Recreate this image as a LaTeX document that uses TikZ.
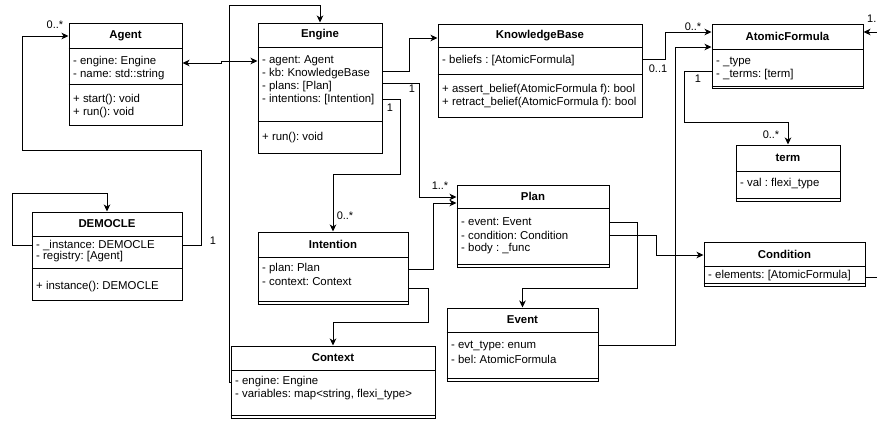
\documentclass[tikz,border=0pt]{standalone}
\usepackage{fontspec}
\setmainfont{Liberation Sans}
\usetikzlibrary{arrows.meta,fit,calc}
\frenchspacing
\begin{document}
\begin{tikzpicture}[x=1pt,y=-1pt,
  cls/.style={draw, line width=1pt, inner sep=0pt},
  ttl/.style={font=\fontsize{11.4}{13}\selectfont\bfseries, inner sep=0pt},
  row/.style={font=\fontsize{11.4}{13}\selectfont, inner sep=0pt, anchor=west},
  lbl/.style={font=\fontsize{11}{13}\selectfont, inner sep=0pt},
  conn/.style={line width=1pt, -{Stealth[length=7pt,width=6.5pt,inset=2pt]}},
  sep/.style={line width=1pt}]
\useasboundingbox (0,0) rectangle (877,421);

% ---------- Agent
\node[cls, fit={(69,23) (182,125)}] (agent) {};
\draw[sep] (agent.west |- 0,48) -- (agent.east |- 0,48);
\draw[sep] (agent.west |- 0,84) -- (agent.east |- 0,84);
\node[ttl] (agent-t) at (agent.north |- 0,35.5) {Agent};
\node[row] (agent-a1) at (73,62) {- engine: Engine};
\node[row] (agent-a2) at (73,75) {- name: std::string};
\node[row] (agent-m1) at (73,100) {+ start(): void};
\node[row] (agent-m2) at (73,113) {+ run(): void};

% ---------- Engine
\node[cls, fit={(258,23) (382,153)}] (engine) {};
\draw[sep] (engine.west |- 0,47) -- (engine.east |- 0,47);
\draw[sep] (engine.west |- 0,121) -- (engine.east |- 0,121);
\node[ttl] (engine-t) at (engine.north |- 0,35) {Engine};
\node[row] (engine-a1) at (262,61) {- agent: Agent};
\node[row] (engine-a2) at (262,74) {- kb: KnowledgeBase};
\node[row] (engine-a3) at (262,87) {- plans: [Plan]};
\node[row] (engine-a4) at (262,100) {- intentions: [Intention]};
\node[row] (engine-m1) at (262,138) {+ run(): void};

% ---------- KnowledgeBase
\node[cls, fit={(438,24) (642,117)}] (kb) {};
\draw[sep] (kb.west |- 0,47) -- (kb.east |- 0,47);
\draw[sep] (kb.west |- 0,74) -- (kb.east |- 0,74);
\node[ttl] (kb-t) at (kb.north |- 0,35.5) {KnowledgeBase};
\node[row] (kb-a1) at (442,61) {- beliefs : [AtomicFormula]};
\node[row] (kb-m1) at (442,90) {+ assert\_belief(AtomicFormula f): bool};
\node[row] (kb-m2) at (442,103) {+ retract\_belief(AtomicFormula f): bool};

% ---------- AtomicFormula
\node[cls, fit={(712,24) (863,88)}] (af) {};
\draw[sep] (af.west |- 0,49) -- (af.east |- 0,49);
\draw[sep] (af.west |- 0,86) -- (af.east |- 0,86);
\node[ttl] (af-t) at (af.north |- 0,36.5) {AtomicFormula};
\node[row] (af-a1) at (716,62) {- \_type};
\node[row] (af-a2) at (716,75) {- \_terms: [term]};

% ---------- term
\node[cls, fit={(736,145) (840,201)}] (term) {};
\draw[sep] (term.west |- 0,171) -- (term.east |- 0,171);
\draw[sep] (term.west |- 0,198) -- (term.east |- 0,198);
\node[ttl] (term-t) at (term.north |- 0,158) {term};
\node[row] (term-a1) at (740,184) {- val : flexi\_type};

% ---------- Condition
\node[cls, fit={(704,242) (865,286)}] (condition) {};
\draw[sep] (condition.west |- 0,266) -- (condition.east |- 0,266);
\draw[sep] (condition.west |- 0,283) -- (condition.east |- 0,283);
\node[ttl] (condition-t) at (condition.north |- 0,254) {Condition};
\node[row] (condition-a1) at (708,276) {- elements: [AtomicFormula]};

% ---------- DEMOCLE
\node[cls, fit={(32,212) (182,300)}] (democle) {};
\draw[sep] (democle.west |- 0,236) -- (democle.east |- 0,236);
\draw[sep] (democle.west |- 0,268) -- (democle.east |- 0,268);
\node[ttl] (democle-t) at (democle.north |- 0,224) {DEMOCLE};
\node[row] (democle-a1) at (36,245) {- \_instance: DEMOCLE};
\node[row] (democle-a2) at (36,257) {- registry: [Agent]};
\node[row] (democle-m1) at (36,287) {+ instance(): DEMOCLE};

% ---------- Intention
\node[cls, fit={(258,232) (408,304)}] (intention) {};
\draw[sep] (intention.west |- 0,257) -- (intention.east |- 0,257);
\draw[sep] (intention.west |- 0,301) -- (intention.east |- 0,301);
\node[ttl] (intention-t) at (intention.north |- 0,244.5) {Intention};
\node[row] (intention-a1) at (262,269) {- plan: Plan};
\node[row] (intention-a2) at (262,282) {- context: Context};

% ---------- Context
\node[cls, fit={(231,346) (435,418)}] (context) {};
\draw[sep] (context.west |- 0,370) -- (context.east |- 0,370);
\draw[sep] (context.west |- 0,415) -- (context.east |- 0,415);
\node[ttl] (context-t) at (context.north |- 0,358) {Context};
\node[row] (context-a1) at (235,382) {- engine: Engine};
\node[row] (context-a2) at (235,395) {- variables: map<string, flexi\_type>};

% ---------- Plan
\node[cls, fit={(457,185) (609,267)}] (plan) {};
\draw[sep] (plan.west |- 0,208) -- (plan.east |- 0,208);
\draw[sep] (plan.west |- 0,264) -- (plan.east |- 0,264);
\node[ttl] (plan-t) at (plan.north |- 0,196.5) {Plan};
\node[row] (plan-a1) at (461,222) {- event: Event};
\node[row] (plan-a2) at (461,235) {- condition: Condition};
\node[row] (plan-a3) at (461,249) {- body : \_func};

% ---------- Event
\node[cls, fit={(447,308) (598,381)}] (event) {};
\draw[sep] (event.west |- 0,332) -- (event.east |- 0,332);
\draw[sep] (event.west |- 0,378) -- (event.east |- 0,378);
\node[ttl] (event-t) at (event.north |- 0,320) {Event};
\node[row] (event-a1) at (451,346) {- evt\_type: enum};
\node[row] (event-a2) at (451,359) {- bel: AtomicFormula};

% ---------- connectors
% DEMOCLE self loop
\draw[conn] (democle.west |- 0,245) -- (12,245) -- (12,193) -- (democle.north |- 0,193) -- (democle.north);
% DEMOCLE -> Agent
\draw[conn] (democle.east |- 0,245) -- (201,245) -- (201,150) -- (22,150) -- (22,36) -- (agent.west |- 0,36);
\node[lbl] (l-d0) at (55,25) {0..*};
\node[lbl] (l-d1) at (213,241) {1};
% Agent <-> Engine
\draw[conn, {Stealth[length=7pt,width=6.5pt,inset=2pt]}-{Stealth[length=7pt,width=6.5pt,inset=2pt]}]
  (agent.east |- 0,63) -- (221,63) -- (221,61) -- (engine.west |- 0,61);
% Context -> Engine
\draw[conn] (context.west |- 0,382) -- (229,382) -- (229,5) -- (engine.north |- 0,5) -- (engine.north);
% Engine -> KnowledgeBase
\draw[conn] (engine.east |- 0,71) -- (409,71) -- (409,38) -- (kb.west |- 0,38);
% Engine -> Plan
\draw[conn] (engine.east |- 0,83) -- (419,83) -- (419,197) -- (plan.west |- 0,197);
\node[lbl] (l-ep1) at (412,89) {1};
\node[lbl] (l-ep2) at (440,186) {1..*};
% Engine -> Intention
\draw[conn] (engine.east |- 0,99) -- (400,99) -- (400,174) -- (intention.north |- 0,174) -- (intention.north);
\node[lbl] (l-ei1) at (390,108) {1};
\node[lbl] (l-ei2) at (345,216) {0..*};
% Intention -> Plan
\draw[conn] (intention.east |- 0,269) -- (433,269) -- (433,203) -- (plan.west |- 0,203);
% Intention -> Context
\draw[conn] (intention.east |- 0,288) -- (428,288) -- (428,322) -- (context.north |- 0,322) -- (context.north);
% Plan -> Event
\draw[conn] (plan.east |- 0,222) -- (637,222) -- (637,288) -- (event.north |- 0,288) -- (event.north);
% Plan -> Condition
\draw[conn] (plan.east |- 0,235) -- (656,235) -- (656,255) -- (condition.west |- 0,255);
% Event -> AtomicFormula
\draw[conn] (event.east |- 0,345) -- (675,345) -- (675,47) -- (af.west |- 0,47);
% KnowledgeBase -> AtomicFormula
\draw[conn] (kb.east |- 0,59) -- (665,59) -- (665,32) -- (af.west |- 0,32);
\node[lbl] (l-ka1) at (693,27) {0..*};
\node[lbl] (l-ka2) at (658,69) {0..1};
% AtomicFormula -> term
\draw[conn] (af.west |- 0,71) -- (684,71) -- (684,122) -- (term.north |- 0,122) -- (term.north);
\node[lbl] (l-at1) at (698,79) {1};
\node[lbl] (l-at2) at (771,135) {0..*};
% Condition -> AtomicFormula (around the right edge)
\draw[conn] (condition.east |- 0,277) -- (895,277) -- (895,32) -- (af.east |- 0,32);
\node[lbl, anchor=west] (l-ca) at (867,19) {1..*};
\end{tikzpicture}
\end{document}
